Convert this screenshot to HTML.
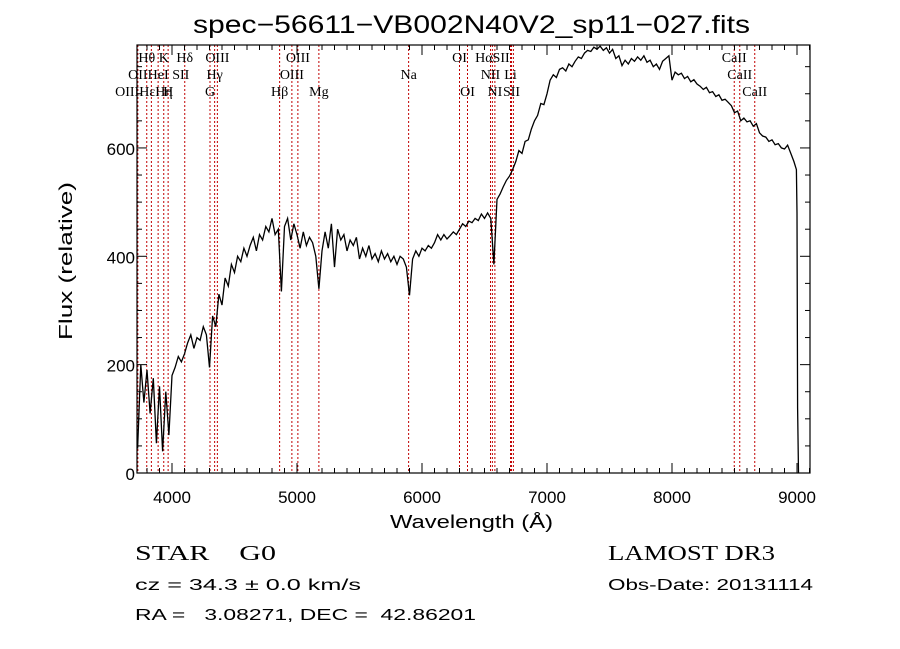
<!DOCTYPE html>
<html><head><meta charset="utf-8"><style>
html,body{margin:0;padding:0;background:#fff;}
svg{display:block;}
text{font-family:"Liberation Sans",sans-serif;fill:#000;white-space:pre;}
text.ser,.ser text{font-family:"Liberation Serif",serif;}
</style></head><body>
<svg id="chart" width="900" height="649" viewBox="0 0 900 649" xmlns="http://www.w3.org/2000/svg">
<rect width="900" height="649" fill="#fff"/>
<text x="193" y="33" font-size="25" textLength="557" lengthAdjust="spacingAndGlyphs">spec−56611−VB002N40V2_sp11−027.fits</text>
<g id="lines"></g>
<g id="labels" class="ser" font-size="14"></g>
<path id="spec" fill="none" stroke="#000" stroke-width="1.3"/>
<g id="axes"></g>
<text x="390" y="528" font-size="18" textLength="163" lengthAdjust="spacingAndGlyphs">Wavelength (Å)</text>
<text transform="translate(72,340) rotate(-90)" font-size="18" textLength="158" lengthAdjust="spacingAndGlyphs">Flux (relative)</text>
<text class="ser" x="135" y="560" font-size="21" textLength="141" lengthAdjust="spacingAndGlyphs">STAR    G0</text>
<text x="135" y="590" font-size="16" textLength="226" lengthAdjust="spacingAndGlyphs">cz = 34.3 ± 0.0 km/s</text>
<text x="135" y="620" font-size="16" textLength="341" lengthAdjust="spacingAndGlyphs">RA =   3.08271, DEC =  42.86201</text>
<text class="ser" x="608" y="560" font-size="21" textLength="167" lengthAdjust="spacingAndGlyphs">LAMOST DR3</text>
<text x="608" y="590" font-size="16" textLength="205" lengthAdjust="spacingAndGlyphs">Obs-Date: 20131114</text>
</svg>
<script>
const waveStart = 3725;
const waveStep = 25;
const flux = [
45,200,130,190, 110,175,55,160, 40,150,70,180, 195,215,205,220,
240,255,230,250, 245,270,255,195, 290,270,330,310, 360,345,385,370,
400,390,415,400, 420,435,410,440, 430,455,445,470, 440,450,335,455,
470,430,460,440, 415,445,420,435, 425,400,340,410, 445,415,460,380,
450,430,440,410, 430,420,435,395, 415,400,420,395, 405,390,410,395,
405,390,400,385, 400,395,380,328, 395,410,400,415, 410,420,415,425,
440,430,440,432, 438,445,440,450, 460,455,465,462, 470,466,478,470,
480,470,385,505, 515,528,540,548, 560,575,595,590, 612,615,635,650,
660,682,680,700, 725,735,730,745, 748,742,755,750, 760,768,765,775,
780,778,786,782, 788,780,785,775, 782,765,770,752, 762,755,765,760,
768,762,770,758, 762,750,755,745, 760,765,770,725, 740,735,738,728,
732,722,726,718, 714,708,712,702, 704,695,698,688, 690,684,678,665,
668,650,655,648, 650,640,645,628, 622,620,612,615, 606,608,600,598,
605,590,575
];
const tailWave = [8995, 9000, 9005, 9012];
const tailFlux = [560, 480, 120, 0];
const lineWaves = [3727,3798,3835,3889,3934,3969,4102,4304,4341,4363,4861,4959,5007,5175,5893,6300,6364,6548,6563,6583,6708,6716,6731,8498,8542,8662];
const labelText = ["Hθ","K","Hδ","OIII","OIII","OI","HαSII","CaII","OII","HeI","SII","Hγ","OIII","Na","NII","Li","CaII","OIIIHεHη","H","G","Hβ","Mg","OI","NI","SII","CaII"];
const labelWave = [3798,3934,4102,4363,5007,6300,6563,8498,3727,3889,4070,4341,4959,5893,6548,6708,8542,3775,3969,4304,4861,5175,6364,6583,6716,8662];
const labelRow = [0,0,0,0,0,0,0,0,1,1,1,1,1,1,1,1,1,2,2,2,2,2,2,2,2,2];
const xTicks = [4000,5000,6000,7000,8000,9000];
const yTicks = [0,200,400,600];

const X0=137,X1=810,Y0=473,Y1=45;
const xmin=3720,xmax=9104,ymin=0,ymax=790;
const sx=v=>X0+(v-xmin)/(xmax-xmin)*(X1-X0);
const sy=v=>Y0-(v-ymin)/(ymax-ymin)*(Y0-Y1);
const NS="http://www.w3.org/2000/svg";
function mk(t,a){const e=document.createElementNS(NS,t);for(const k in a)e.setAttribute(k,a[k]);return e;}

const lg=document.getElementById('lines');
lineWaves.forEach(w=>{
  const l=mk('line',{x1:sx(w),x2:sx(w),y1:Y1,y2:Y0,stroke:'#c00000','stroke-width':1,'stroke-dasharray':'2,2'});
  
  
  lg.appendChild(l);
});
const lb=document.getElementById('labels');
labelText.forEach((t,i)=>{
  const e=mk('text',{x:sx(labelWave[i]),y:62+labelRow[i]*17,'text-anchor':'middle'});
  e.textContent=t;
  
  
  lb.appendChild(e);
});

let d='';
flux.forEach((f,i)=>{const w=waveStart+i*waveStep;d+=(i?'L':'M')+sx(w).toFixed(1)+','+sy(f).toFixed(1);});
tailWave.forEach((w,i)=>{d+='L'+sx(w).toFixed(1)+','+sy(tailFlux[i]).toFixed(1);});
document.getElementById('spec').setAttribute('d',d);

const ax=document.getElementById('axes');
ax.appendChild(mk('rect',{x:X0,y:Y1,width:X1-X0,height:Y0-Y1,fill:'none',stroke:'#000','stroke-width':1.2}));
for(let w=3800;w<=9100;w+=100){
  const major=w%1000===0, L=major?10:5;
  ax.appendChild(mk('line',{x1:sx(w),x2:sx(w),y1:Y0,y2:Y0-L,stroke:'#000'}));
  ax.appendChild(mk('line',{x1:sx(w),x2:sx(w),y1:Y1,y2:Y1+L,stroke:'#000'}));
}
for(let v=0;v<=750;v+=50){
  const major=v%200===0, L=major?10:5;
  ax.appendChild(mk('line',{x1:X0,x2:X0+L,y1:sy(v),y2:sy(v),stroke:'#000'}));
  ax.appendChild(mk('line',{x1:X1,x2:X1-L,y1:sy(v),y2:sy(v),stroke:'#000'}));
}
xTicks.forEach(v=>{
  const t=mk('text',{x:sx(v),y:503,'text-anchor':'middle','font-size':17});
  t.textContent=v;
  
  
  ax.appendChild(t);
});
yTicks.forEach(v=>{
  const t=mk('text',{x:X0-2,y:sy(v)+7,'text-anchor':'end','font-size':17});
  t.textContent=v;
  
  
  ax.appendChild(t);
});
</script>
</body></html>
